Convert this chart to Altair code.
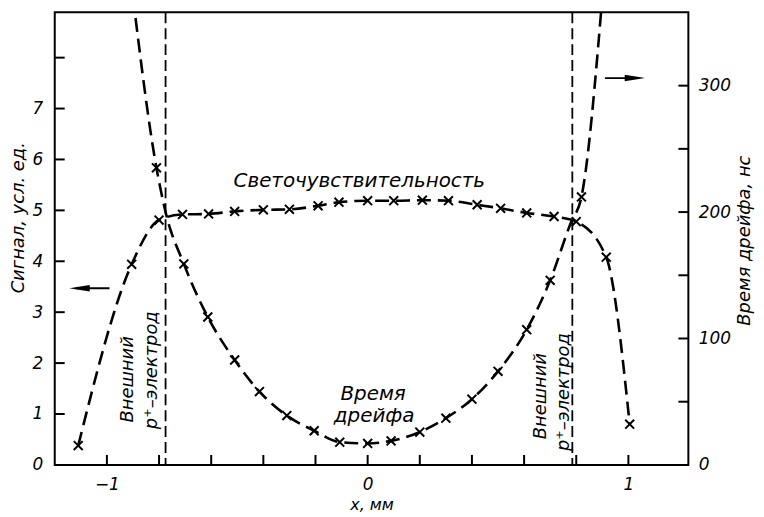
import altair as alt
import pandas as pd

# Photosensitivity (left axis, signal, arb. units)
ps_x = [-1.11, -0.905, -0.80, -0.71, -0.61, -0.51, -0.40, -0.30, -0.19, -0.11, 0.0, 0.10,
        0.21, 0.31, 0.42, 0.51, 0.61, 0.715, 0.80, 0.915, 1.005]
ps_y = [0.38, 3.94, 4.81, 4.92, 4.93, 4.98, 5.01, 5.02, 5.09, 5.16, 5.19, 5.19,
        5.20, 5.19, 5.11, 5.04, 4.95, 4.88, 4.78, 4.08, 0.80]

# Drift time (right axis, ns)
dr_x = [-0.90, -0.81, -0.775, -0.705, -0.613, -0.51, -0.415, -0.31, -0.205, -0.107, 0.0, 0.09,
        0.20, 0.30, 0.40, 0.50, 0.61, 0.70, 0.78, 0.82, 0.90]
dr_t = [370, 235, 200, 159, 117, 83, 58, 39, 27, 18, 17, 19,
        26, 37, 52, 74, 107, 146, 192, 212, 370]
dr_mark = [False, True, False, True, True, True, True, True, True, True, True, True,
           True, True, True, True, True, True, False, True, False]

electrodes = [-0.775, 0.785]
left_ticks = [1, 2, 3, 4, 5, 6, 7, 8]
right_ticks = [50, 100, 150, 200, 250, 300]
x_ticks = [-1.0, -0.8, -0.6, -0.4, -0.2, 0.0, 0.2, 0.4, 0.6, 0.8, 1.0]

W, H = 637, 455
FONT = "DejaVu Sans"
XDOM = [-1.2, 1.23]
LDOM = [0, 8.89]
RDOM = [0, 358]

ps = pd.DataFrame({"x": ps_x, "y": ps_y})
dr = pd.DataFrame({"x": dr_x, "t": dr_t, "m": dr_mark})

xs = alt.Scale(domain=XDOM, nice=False, zero=False)
ls = alt.Scale(domain=LDOM, nice=False, zero=False)
rs = alt.Scale(domain=RDOM, nice=False, zero=False)

xaxis = alt.Axis(values=[-1, 0, 1], tickSize=0, domain=False, grid=False,
                 labelFont=FONT, labelFontSize=17, labelFontStyle="italic", labelPadding=12,
                 title="x, мм", titleFont=FONT, titleFontSize=16, titleFontStyle="italic",
                 titleFontWeight="normal", titleY=40, titleBaseline="middle",
                 labelColor="black", titleColor="black")
laxis = alt.Axis(values=[0, 1, 2, 3, 4, 5, 6, 7], tickSize=0, domain=False, grid=False,
                 labelFont=FONT, labelFontSize=17, labelFontStyle="italic", labelPadding=12,
                 title="Сигнал, усл. ед.", titleFont=FONT, titleFontSize=18, titleFontStyle="italic",
                 titleFontWeight="normal", titleX=-36, titleY=206, titleBaseline="middle",
                 titleAngle=270, labelColor="black", titleColor="black")
raxis = alt.Axis(values=[0, 100, 200, 300], tickSize=0, domain=False, grid=False, orient="right",
                 labelFont=FONT, labelFontSize=17, labelFontStyle="italic", labelPadding=10,
                 title="Время дрейфа, нс", titleFont=FONT, titleFontSize=18, titleFontStyle="italic",
                 titleFontWeight="normal", titleX=56, titleY=229, titleBaseline="middle",
                 titleAngle=270, labelColor="black", titleColor="black")

X = alt.X("x:Q", scale=xs, axis=xaxis)
YL = alt.Y("y:Q", scale=ls, axis=laxis)
YR = alt.Y("t:Q", scale=rs, axis=raxis)

xshape = "M-1,-1L1,1M-1,1L1,-1"

# ---------- left-axis layer ----------
ps_line = alt.Chart(ps).mark_line(interpolate="monotone", color="black", strokeWidth=2.6,
                                  strokeDash=[14, 7], clip=True).encode(x=X, y=YL)
ps_pts = alt.Chart(ps).mark_point(shape=xshape, size=80, color="black", strokeWidth=2,
                                  filled=False, opacity=1).encode(x=X, y=YL)
lt = alt.Chart(pd.DataFrame({"y": left_ticks})).mark_rule(color="black", strokeWidth=2).encode(
    y=YL, x=alt.value(0), x2=alt.value(10))
xt = alt.Chart(pd.DataFrame({"x": x_ticks})).mark_rule(color="black", strokeWidth=2).encode(
    x=X, y=alt.value(H), y2=alt.value(H - 10))
el = alt.Chart(pd.DataFrame({"x": electrodes})).mark_rule(color="black", strokeWidth=1.8,
                                                          strokeDash=[11, 5]).encode(
    x=X, y=alt.value(0), y2=alt.value(H))

# left arrow (points to left axis)
la = pd.DataFrame({"x": [-0.99], "x2": [-1.12], "y": [3.47]})
la_line = alt.Chart(la).mark_rule(color="black", strokeWidth=1.8).encode(
    x=X, x2="x2:Q", y=YL)
la_head = alt.Chart(pd.DataFrame({"x": [-1.105], "y": [3.47]})).mark_point(
    shape="M-1,0L1,-0.32L1,0.32Z", size=420, filled=True, color="black", opacity=1).encode(x=X, y=YL)

ann = pd.DataFrame({
    "x": [-0.032, 0.021, 0.025],
    "y": [5.57, 1.39, 0.96],
    "txt": ["Светочувствительность", "Время", "дрейфа"],
})
ann_t = alt.Chart(ann).mark_text(font=FONT, fontSize=20, fontStyle="italic", color="black",
                                 align="center", baseline="middle").encode(x=X, y=YL, text="txt:N")
rot = pd.DataFrame({
    "x": [-0.918, -0.826, 0.666, 0.754],
    "y": [1.68, 1.86, 1.35, 1.43],
    "txt": ["Внешний", "p⁺–электрод", "Внешний", "p⁺–электрод"],
})
rot_t = alt.Chart(rot).mark_text(font=FONT, fontSize=18, fontStyle="italic", color="black",
                                 align="center", baseline="middle", angle=270).encode(
    x=X, y=YL, text="txt:N")

left = alt.layer(ps_line, ps_pts, lt, xt, el, la_line, la_head, ann_t, rot_t)

# ---------- right-axis layer ----------
dr_line = alt.Chart(dr).mark_line(interpolate="monotone", color="black", strokeWidth=2.6,
                                  strokeDash=[14, 7], clip=True).encode(x=X, y=YR)
dr_pts = alt.Chart(dr).transform_filter("datum.m").mark_point(
    shape=xshape, size=80, color="black", strokeWidth=2, filled=False, opacity=1).encode(x=X, y=YR)
rt = alt.Chart(pd.DataFrame({"t": right_ticks})).mark_rule(color="black", strokeWidth=2).encode(
    y=YR, x=alt.value(W - 10), x2=alt.value(W))
ra = pd.DataFrame({"x": [0.91], "x2": [1.04], "t": [306]})
ra_line = alt.Chart(ra).mark_rule(color="black", strokeWidth=1.8).encode(x=X, x2="x2:Q", y=YR)
ra_head = alt.Chart(pd.DataFrame({"x": [1.025], "t": [306]})).mark_point(
    shape="M1,0L-1,-0.32L-1,0.32Z", size=420, filled=True, color="black", opacity=1).encode(x=X, y=YR)

right = alt.layer(dr_line, dr_pts, rt, ra_line, ra_head)

chart = alt.layer(left, right).resolve_scale(y="independent").properties(
    width=W, height=H,
    autosize=alt.AutoSizeParams(type="none"),
    padding={"left": 47, "top": 3, "right": 68, "bottom": 48},
    background="white",
).configure_view(stroke="black", strokeWidth=2)

chart.save("out.html", embed_options={"renderer": "svg", "actions": False})
